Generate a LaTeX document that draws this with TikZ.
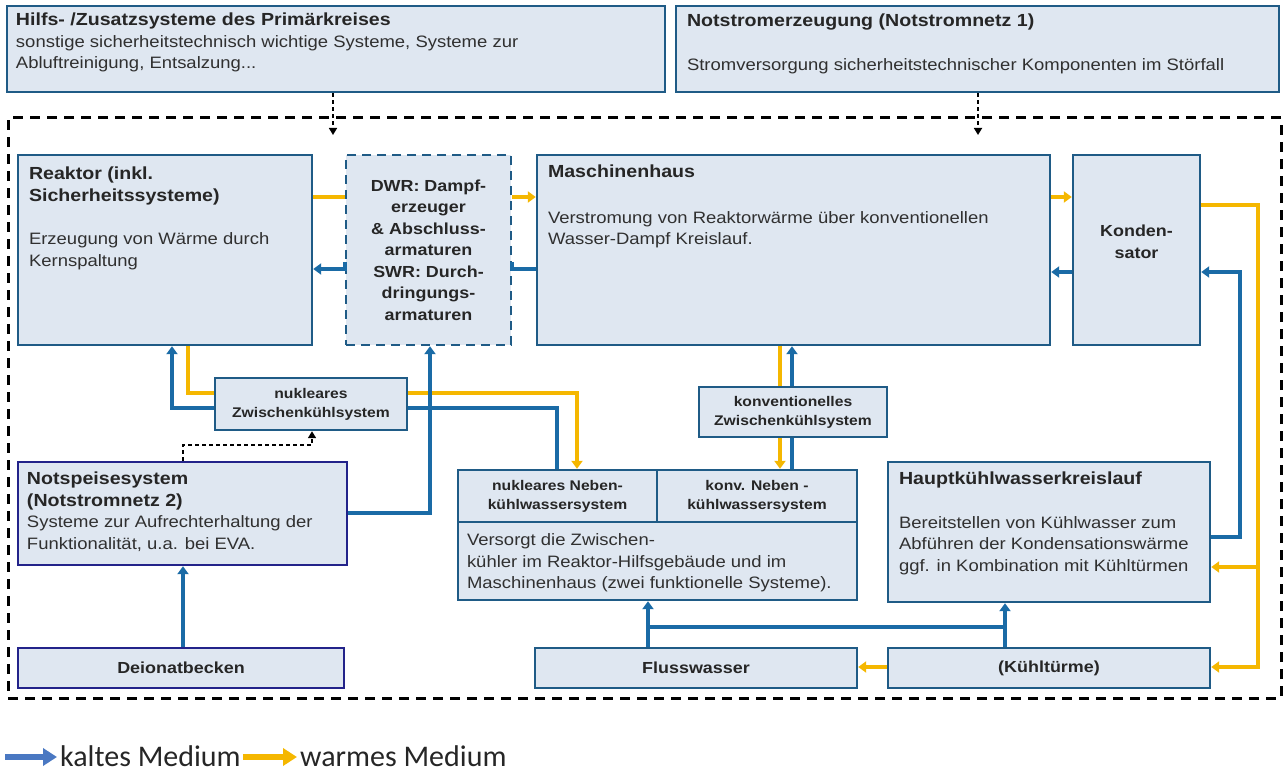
\documentclass[tikz,border=0pt]{standalone}
\usepackage{fontspec}
\setmainfont{Liberation Sans}[FakeStretch=1.12]
\newfontfamily\legendfont{Carlito}
\usetikzlibrary{arrows.meta,calc}
\definecolor{boxfill}{HTML}{DFE7F1}
\definecolor{boxline}{HTML}{1F5B86}
\definecolor{navy}{HTML}{23238A}
\definecolor{cold}{HTML}{1A6BA6}
\definecolor{warm}{HTML}{F5B700}
\definecolor{legcold}{HTML}{4A78C2}
\definecolor{textgray}{HTML}{303030}
% bold heading inside a description block
\newcommand{\boxhead}[1]{{\color{black!85}\bfseries\fontsize{17.5}{21.5}\selectfont #1}}
\begin{document}
\begin{tikzpicture}[x=1pt,y=-1pt,
  box/.style={draw=boxline,line width=2.4pt,fill=boxfill,inner sep=0pt},
  navybox/.style={box,draw=navy},
  dbox/.style={box,dash pattern=on 9pt off 6pt},
  body/.style={inner sep=0pt,align=left,text=textgray,font=\fontsize{16.5}{21.5}\selectfont},
  ctr/.style={inner sep=0pt,align=center,text=black!85,font=\bfseries\fontsize{16}{21.5}\selectfont},
  small/.style={inner sep=0pt,align=center,text=black!85,font=\bfseries\fontsize{14}{19}\selectfont},
  coldp/.style={draw=cold,line width=3.8pt},
  warmp/.style={draw=warm,line width=3.8pt},
  tip/.style={-{Triangle[length=8pt,width=11pt]}},
  ctl/.style={draw=black,line width=1.6pt,dash pattern=on 4pt off 3pt,-{Triangle[length=7pt,width=8pt]}},
  frame/.style={draw=black,line width=3pt,dash pattern=on 10pt off 7pt,inner sep=0pt},
  legtext/.style={inner sep=0pt,anchor=base west,text=black!85,font=\legendfont\fontsize{30}{32}\selectfont},
  legarrow/.style={line width=6pt,-{Triangle[length=14pt,width=17pt]}},
]
\useasboundingbox (0,0) rectangle (1284,773);

% upper supply systems
\node[box,minimum width=658pt,minimum height=86pt] (hilfs) at (336,49) {};
\node[body,anchor=north west] (hilfs-t) at ($(hilfs.north west)+(10,8)$)
  {\boxhead{Hilfs- /Zusatzsysteme des Primärkreises}\\
   sonstige sicherheitstechnisch wichtige Systeme, Systeme zur\\
   Abluftreinigung, Entsalzung...};
\node[box,minimum width=603pt,minimum height=86pt] (notstrom) at (977.5,49) {};
\node[body,anchor=north west] (notstrom-t) at ($(notstrom.north west)+(12,9)$)
  {\boxhead{Notstromerzeugung (Notstromnetz 1)}\\[22pt]
   Stromversorgung sicherheitstechnischer Komponenten im Störfall};

% plant boundary
\node[frame,minimum width=1273pt,minimum height=580pt] (plant) at (644.5,408) {};

% main row
\node[box,minimum width=294pt,minimum height=190pt] (reaktor) at (165,250) {};
\node[body,anchor=north west] (reaktor-t) at ($(reaktor.north west)+(12,13)$)
  {\boxhead{Reaktor (inkl.}\\
   \boxhead{Sicherheitssysteme)}\\[22pt]
   Erzeugung von Wärme durch\\Kernspaltung};
\node[dbox,minimum width=165pt,minimum height=190pt] (dwr) at (428.5,250) {};
\node[ctr] (dwr-t) at (dwr.center)
  {DWR: Dampf-\\erzeuger\\\& Abschluss-\\armaturen\\SWR: Durch-\\dringungs-\\armaturen};
\node[box,minimum width=513pt,minimum height=190pt] (masch) at (793.5,250) {};
\node[body,anchor=north west] (masch-t) at ($(masch.north west)+(12,11)$)
  {\boxhead{Maschinenhaus}\\[24pt]
   Verstromung von Reaktorwärme über konventionellen\\Wasser-Dampf Kreislauf.};
\node[box,minimum width=127pt,minimum height=190pt] (kond) at (1136.5,250) {};
\node[ctr] (kond-t) at ($(kond.center)+(0,-8)$) {Konden-\\sator};

% intermediate cooling systems
\node[box,minimum width=192pt,minimum height=52pt] (nukz) at (311,404) {};
\node[small] (nukz-t) at (nukz.center) {nukleares\\Zwischenkühlsystem};
\node[box,minimum width=188pt,minimum height=50pt] (konvz) at (793,412) {};
\node[small] (konvz-t) at (konvz.center) {konventionelles\\Zwischenkühlsystem};

% emergency feed
\node[navybox,minimum width=329pt,minimum height=103pt] (notspeise) at (182.5,513.5) {};
\node[body,anchor=north west] (notspeise-t) at ($(notspeise.north west)+(10,11)$)
  {\boxhead{Notspeisesystem}\\
   \boxhead{(Notstromnetz 2)}\\
   Systeme zur Aufrechterhaltung der\\Funktionalität, u.a. bei EVA.};
\node[navybox,minimum width=326pt,minimum height=40pt] (deionat) at (181,668) {};
\node[ctr] (deionat-t) at (deionat.center) {Deionatbecken};

% secondary cooling water
\node[box,minimum width=199pt,minimum height=52pt] (nebA) at (557.5,496) {};
\node[small] (nebA-t) at (nebA.center) {nukleares Neben-\\kühlwassersystem};
\node[box,minimum width=200pt,minimum height=52pt] (nebB) at (757,496) {};
\node[small] (nebB-t) at (nebB.center) {konv. Neben -\\kühlwassersystem};
\node[box,minimum width=399pt,minimum height=78pt] (nebC) at (657.5,561) {};
\node[body,anchor=north west] (nebC-t) at ($(nebC.north west)+(10,13)$)
  {Versorgt die Zwischen-\\kühler im Reaktor-Hilfsgebäude und im\\
   Maschinenhaus (zwei funktionelle Systeme).};

% main cooling water
\node[box,minimum width=322pt,minimum height=140pt] (haupt) at (1049,532) {};
\node[body,anchor=north west] (haupt-t) at ($(haupt.north west)+(12,11)$)
  {\boxhead{Hauptkühlwasserkreislauf}\\[22pt]
   Bereitstellen von Kühlwasser zum\\Abführen der Kondensationswärme\\
   ggf. in Kombination mit Kühltürmen};

% heat sinks
\node[box,minimum width=322pt,minimum height=40pt] (fluss) at (696,668) {};
\node[ctr] (fluss-t) at (fluss.center) {Flusswasser};
\node[box,minimum width=322pt,minimum height=40pt] (kuehl) at (1049,668) {};
\node[ctr] (kuehl-t) at (kuehl.center) {(Kühltürme)};

% control / supply links
\draw[ctl] (hilfs.south -| 333,0) -- (333,135);
\draw[ctl] (notstrom.south -| 978,0) -- (978,135);
\draw[ctl] (notspeise.north -| 183,0) |- (312,445) -- (nukz.south -| 312,0);

% warm medium
\draw[warmp] (reaktor.east |- 0,197) -- (dwr.west |- 0,197);
\draw[warmp,tip] (dwr.east |- 0,197) -- (masch.west |- 0,197);
\draw[warmp,tip] (masch.east |- 0,197) -- (kond.west |- 0,197);
\draw[warmp,tip] (kond.east |- 0,205) -| (1258,667) -- (kuehl.east |- 0,667);
\draw[warmp,tip] (1258,567) -- (haupt.east |- 0,567);
\draw[warmp,tip] (kuehl.west |- 0,667) -- (fluss.east |- 0,667);
\draw[warmp] (reaktor.south -| 188,0) |- (nukz.west |- 0,393);
\draw[warmp,tip] (nukz.east |- 0,393) -| (nebA.north -| 577,0);
\draw[warmp] (masch.south -| 780,0) -- (konvz.north -| 780,0);
\draw[warmp,tip] (konvz.south -| 780,0) -- (nebB.north -| 780,0);

% cold medium
\draw[coldp] (masch.west |- 0,269) -- (dwr.east |- 0,269) -- (dwr.east |- 0,262);
\draw[coldp,tip] (dwr.west |- 0,262) -- (dwr.west |- 0,269) -- (reaktor.east |- 0,269);
\draw[coldp,tip] (kond.west |- 0,272) -- (masch.east |- 0,272);
\draw[coldp,tip] (haupt.east |- 0,537) -| (1240,272) -- (kond.east |- 0,272);
\draw[coldp,tip] (nukz.west |- 0,408) -| (reaktor.south -| 172,0);
\draw[coldp] (nebA.north -| 557,0) |- (nukz.east |- 0,408);
\draw[coldp,tip] (notspeise.east |- 0,513) -| (dwr.south -| 430,0);
\draw[coldp,tip] (deionat.north -| 183,0) -- (notspeise.south -| 183,0);
\draw[coldp,tip] (konvz.north -| 792,0) -- (masch.south -| 792,0);
\draw[coldp] (nebB.north -| 792,0) -- (konvz.south -| 792,0);
\draw[coldp,tip] (fluss.north -| 648,0) -- (nebC.south -| 648,0);
\draw[coldp,tip] (kuehl.north -| 1005,0) -- (haupt.south -| 1005,0);
\draw[coldp] (648,627) -- (1005,627);

% legend
\coordinate (leg0) at (5,757);
\node[legtext] (legc) at (60,766) {kaltes Medium};
\node[legtext] (legw) at (300,766) {warmes Medium};
\draw[legarrow,draw=legcold] (leg0) -- ([xshift=-3pt]legc.west |- leg0);
\draw[legarrow,draw=warm] ([xshift=2pt]legc.east |- leg0) -- ([xshift=-3pt]legw.west |- leg0);
\end{tikzpicture}
\end{document}
